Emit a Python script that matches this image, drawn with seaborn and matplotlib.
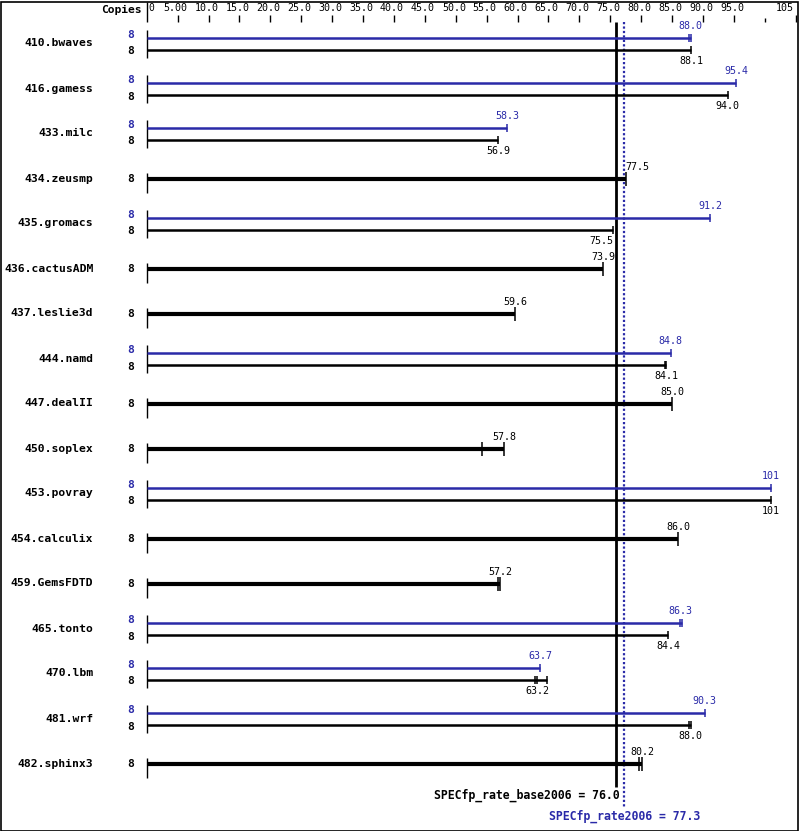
import numpy as np
import pandas as pd
import matplotlib
matplotlib.use("Agg")
import matplotlib.pyplot as plt
import seaborn as sns

# Benchmarks and their ratios (label values)
benchmarks = ["410.bwaves", "416.gamess", "433.milc", "434.zeusmp", "435.gromacs",
              "436.cactusADM", "437.leslie3d", "444.namd", "447.dealII", "450.soplex",
              "453.povray", "454.calculix", "459.GemsFDTD", "465.tonto", "470.lbm",
              "481.wrf", "482.sphinx3"]
base_ratio = [88.1, 94.0, 56.9, 77.5, 75.5, 73.9, 59.6, 84.1, 85.0, 57.8,
              101, 86.0, 57.2, 84.4, 63.2, 88.0, 80.2]
peak_ratio = [88.0, 95.4, 58.3, None, 91.2, None, None, 84.8, None, None,
              101, None, None, 86.3, 63.7, 90.3, None]
base_copies = [8] * 17
peak_copies = [8, 8, 8, None, 8, None, None, 8, None, None, 8, None, None, 8, 8, 8, None]

# other run results shown as extra ticks
base_other_runs = {"444.namd": [83.8], "450.soplex": [54.3], "459.GemsFDTD": [56.9],
                   "470.lbm": [62.8, 64.7], "481.wrf": [87.8], "482.sphinx3": [79.7]}
peak_other_runs = {"410.bwaves": [87.7], "465.tonto": [86.6]}

base_mean = 76.0
peak_mean = 77.3
tick_values = [0, 5, 10, 15, 20, 25, 30, 35, 40, 45, 50, 55, 60, 65, 70, 75, 80, 85, 90, 95, 100, 105]
tick_labels = ["0", "5.00", "10.0", "15.0", "20.0", "25.0", "30.0", "35.0", "40.0", "45.0",
               "50.0", "55.0", "60.0", "65.0", "70.0", "75.0", "80.0", "85.0", "90.0", "95.0",
               "", "105"]

BLUE = "#2a2aa8"
MONO = "DejaVu Sans Mono"

sns.set_style("white")
plt.rcParams["font.family"] = [MONO]
plt.rcParams["text.color"] = "black"

W, H = 799, 831
fig = plt.figure(figsize=(W / 100, H / 100), dpi=100)
ax = fig.add_axes([0, 0, 1, 1])
x0_px, px_per = 146.7, 6.18
ax.set_xlim(-x0_px / px_per, (W - x0_px) / px_per)
ax.set_ylim(H, 0)
ax.axis("off")

# top scale
ax.vlines(0, 2, 22, color="black", lw=1)
for v, lab in zip(tick_values, tick_labels):
    if v == 0:
        ax.text(0.3, 8, lab, ha="left", va="center", fontsize=7)
        continue
    top = 18 if v == 100 else 15
    ax.vlines(v, top, 21.7, color="black", lw=1)
    ax.text(v - 0.3, 8, lab, ha="right" if v == 105 else "center", va="center", fontsize=7.2)
ax.text(-0.8, 10, "Copies", ha="right", va="center", fontsize=8.1, fontweight="bold")

# build long table of bars
rows = []
for i, name in enumerate(benchmarks):
    c = 43.5 + 45 * i
    double = peak_ratio[i] is not None
    if double:
        rows.append(dict(bench=name, kind="peak", value=peak_ratio[i], y=c - 6,
                         runs=[peak_ratio[i]] + peak_other_runs.get(name, []), copies=peak_copies[i]))
        rows.append(dict(bench=name, kind="base", value=base_ratio[i], y=c + 6,
                         runs=[base_ratio[i]] + base_other_runs.get(name, []), copies=base_copies[i]))
    else:
        rows.append(dict(bench=name, kind="single", value=base_ratio[i], y=c,
                         runs=[base_ratio[i]] + base_other_runs.get(name, []), copies=base_copies[i]))
    ax.text(-53.3 / px_per, c, name, ha="right", va="center", fontsize=8.2, fontweight="bold")
    ax.vlines(0, c - (13.5 if double else 5.2), c + 14, color="black", lw=1)
df = pd.DataFrame(rows)

ticks = df.explode("runs").astype({"runs": float})
for kind, grp in ticks.groupby("kind"):
    col = BLUE if kind == "peak" else "black"
    s = 100 if kind == "single" else 30
    sns.scatterplot(data=grp, x="runs", y="y", marker="|", s=s, color=col,
                    linewidth=1.1, ax=ax, legend=False, zorder=4)

for _, r in df.iterrows():
    col = BLUE if r.kind == "peak" else "black"
    lw = 3.0 if r.kind == "single" else 1.8
    ax.hlines(r.y, 0, max(r.runs), color=col, lw=lw, zorder=3)
    # copies
    cy = r.y + (-2.5 if r.kind == "peak" else 2 if r.kind == "base" else 0.6)
    ax.text(-16 / px_per, cy, str(r.copies), ha="center", va="center", fontsize=8,
            fontweight="bold", color=col)
    # value label
    lab = f"{r.value:.0f}" if r.value >= 100 else f"{r.value:.1f}"
    ly = r.y + (11.3 if r.kind == "base" else -11.5)
    ha, lx = "center", r.value
    if abs(r.value - base_mean) < 2:
        ha = "left" if r.value > base_mean else "right"
    ax.text(lx, ly, lab, ha=ha, va="center", fontsize=7.2, color=col)

# mean lines
ax.vlines(base_mean, 21.7, 787, color="black", lw=2)
ax.vlines(peak_mean, 21.7, 808, color=BLUE, lw=1.6, linestyles=(0, (1, 1)))
ax.text(base_mean + 0.6, 795, f"SPECfp_rate_base2006 = {base_mean:.1f}", ha="right",
        va="center", fontsize=8.3, fontweight="bold")
ax.text(peak_mean, 816.5, f"SPECfp_rate2006 = {peak_mean:.1f}", ha="center",
        va="center", fontsize=8.3, fontweight="bold", color=BLUE)

# outer frame
fig.patches.append(plt.Rectangle((0.5 / W, 0.5 / H), 1 - 2 / W, 1 - 2 / H, transform=fig.transFigure,
                                 fill=False, edgecolor="black", lw=1.2))

fig.savefig("out.png", dpi=100)
